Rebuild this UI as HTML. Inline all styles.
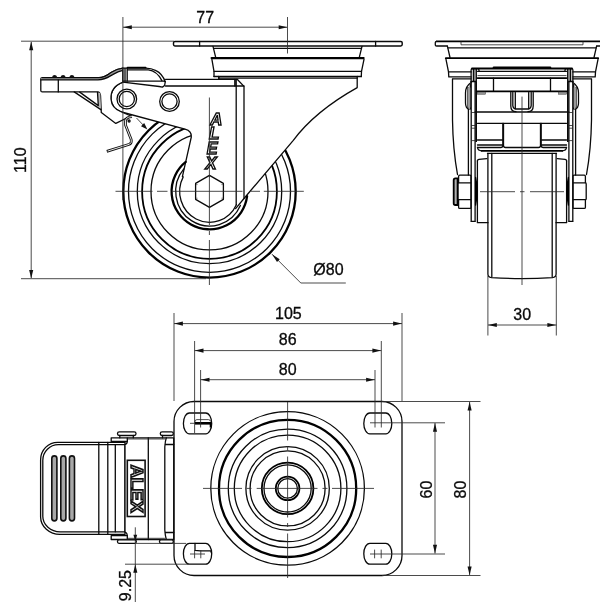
<!DOCTYPE html>
<html>
<head>
<meta charset="utf-8">
<title>Caster drawing</title>
<style>
html,body{margin:0;padding:0;background:#fff;}
body{width:600px;height:610px;overflow:hidden;}
svg{display:block;filter:grayscale(1);}
text{font-family:"Liberation Sans",sans-serif;font-size:16px;fill:#0a0a0a;stroke:#0a0a0a;stroke-width:0.3;}
.m{fill:none;stroke:#0a0a0a;stroke-width:1.3;stroke-linecap:round;stroke-linejoin:round;}
.w{fill:#fff;stroke:#0a0a0a;stroke-width:1.3;stroke-linecap:round;stroke-linejoin:round;}
.k{fill:none;stroke:#000;stroke-width:2.3;stroke-linecap:round;stroke-linejoin:round;}
.k2{fill:none;stroke:#000;stroke-width:1.8;stroke-linecap:round;stroke-linejoin:round;}
.t{fill:none;stroke:#222;stroke-width:0.8;}
.d{fill:none;stroke:#2a2a2a;stroke-width:0.85;}
.a{fill:#111;stroke:none;}
</style>
</head>
<body>
<svg width="600" height="610" viewBox="0 0 600 610">
<rect x="0" y="0" width="600" height="610" fill="#fff"/>

<!-- ================= SIDE VIEW ================= -->
<g id="side">
<!-- wheel -->
<circle class="k" cx="209.5" cy="191.4" r="86.2"/>
<circle class="m" cx="209.5" cy="191.4" r="81"/>
<circle class="m" cx="209.5" cy="191.4" r="72.2"/>
<circle class="k2" cx="209.5" cy="191.4" r="67.4"/>
<circle class="m" cx="209.5" cy="191.4" r="58.5"/>
<!-- fork + housing white mask -->
<path fill="#fff" stroke="none" d="M122.9,82.2 C114,85 110.5,92 111,99 C111.5,105 116,110 121.5,112 L185,129.1 Q192,131 191.3,137 L185.6,162.4 L182.2,177.3 L181,180 L209.5,229 L244,198.5 L293.3,140.3 C310,118 335,100 356.7,87.1 L357.2,76.5 L361.3,76.5 L361.5,71.3 L364,59.4 L359.3,57.3 L362,46.3 L213,46.3 L215.7,57.3 L211.9,59.4 L214,71.3 L214,76.5 L218.75,76.5 L218.75,79.5 L164.3,79.7 L165,83.7 L161.7,87 Z"/>
<!-- top plate -->
<path class="m" d="M174.9,41.4 L400.8,41.4 Q402.2,41.4 402.2,42.8 L402.2,44.6 Q402.2,46 400.8,46 L174.9,46 Q173.5,46 173.5,44.6 L173.5,42.8 Q173.5,41.4 174.9,41.4 Z" style="stroke-width:1.45"/>
<path class="m" d="M199.6,41.4 L199.6,46 M375.6,41.4 L375.6,46"/>
<!-- housing tiers -->
<path class="m" d="M213,46.3 L215.7,57.3 M362,46.3 L359.3,57.3"/>
<path class="m" d="M214.3,48.3 L360.7,48.3"/>
<path d="M211.6,58.1 L363.6,58.1" fill="none" stroke="#000" stroke-width="2.2" stroke-linecap="round"/>
<path class="m" d="M211.9,59.4 L214,71.3 L214,76.5 M364,59.4 L361.5,71.3 L361.3,76.5"/>
<path class="m" d="M214,71.3 L361.5,71.3"/>
<path class="m" d="M214,76.5 L361.3,76.5" style="stroke-width:1.5"/>
<path class="m" d="M218.75,76.5 L218.75,79.3 M218.75,78.1 L357.2,78.1"/>
<!-- fork right curve -->
<path class="m" d="M357.2,76.5 L357.2,87.6 C335,100 310,118 293.3,140.3 L244,198.5 L235.6,208.6"/>
<!-- fork top flange and verticals -->
<path class="m" d="M165.5,79.3 L237.2,79.3 L244,86.4 L244,198.5"/>
<path class="m" d="M165.5,86 L244,86"/>
<path class="m" d="M218.75,77.4 L218.75,79.3"/>
<path class="m" d="M234.8,79.3 L234.8,86 M236.2,79.3 L236.2,204.5"/>
<!-- fork lower-left edge -->
<path class="m" d="M121.5,112 L185,129.1 Q192,131 191.3,137 L185.6,162.4 L182.4,176.6"/>
<!-- pivot bracket -->
<path class="m" d="M122.9,82.2 C114.5,85.5 110.6,92 111,99 C111.4,105.5 116,110 121.5,112"/>
<path class="m" d="M122.9,82.2 L159.2,86.5 L162.4,87.1 L164.6,85.5 L165.3,81.7"/>
<circle class="m" cx="126.8" cy="99" r="9.8"/>
<circle class="m" cx="126.8" cy="99" r="7.6"/>
<circle class="m" cx="169.5" cy="101.5" r="9.8"/>
<circle class="m" cx="169.5" cy="101.5" r="7.6"/>
<!-- hub arcs -->
<path class="k" d="M185.75,161.86 A37.9,37.9 0 1 0 247.10,196.15"/>
<path class="m" d="M183.80,168.93 A33.8,34.6 0 1 0 240.38,205.47"/>
<path class="m" d="M183.19,176.92 A29.8,30.85 0 1 0 236.40,204.68"/>
<!-- hex bolt -->
<path class="m" d="M209.5,175.4 L223.4,183.4 L223.4,199.4 L209.5,207.4 L195.6,199.4 L195.6,183.4 Z"/>
<path class="t" d="M196.4,184.6 L197.4,184.6 M196.4,198.2 L197.4,198.2 M221.6,184.6 L222.6,184.6 M221.6,198.2 L222.6,198.2 M209,176.8 L210,176.8 M209,206 L210,206"/>
<!-- brake lever / pedal -->
<path class="w" d="M42.3,77.6 L99,77.6 C105.5,77.6 108,74.5 111.5,72.3 C115,70 118.5,68.6 122.9,68.1 L122.9,82.2 C114.5,85.5 110.6,92 111,99 C111.4,105.5 116,110 121.5,112 L131,116 L115.8,123.4 L101.3,112.6 L100.5,95.5 Q100.3,92.6 98,91.9 L42.3,91.9 Q40.8,91.9 40.8,90.4 L40.8,79.1 Q40.8,77.6 42.3,77.6 Z"/>
<path fill="#9c9c9c" stroke="none" d="M41.3,77.8 L99,77.6 C105.5,77.6 108,74.5 111.5,72.3 C115,70 118.5,68.6 122.9,68.1 L122.9,70.4 C119,71 116,72.5 112.6,74.6 C108.5,77 105,79.9 98,79.9 L41.3,79.9 Z"/>
<path class="m" d="M42.3,77.6 L99,77.6 C105.5,77.6 108,74.5 111.5,72.3 C115,70 118.5,68.6 122.9,68.1"/>
<path class="m" d="M41,79.9 L98,79.9 C105,79.9 108.5,77 112.6,74.6 C116,72.5 119,71 122.9,70.4"/>
<path class="m" d="M58.3,79.9 L58.3,91.9"/>
<path fill="#b5b5b5" stroke="none" d="M97.5,92.5 L100.3,93 L101,109.5 L98.3,105.8 Z"/>
<path class="m" d="M74.2,91.9 L100.9,109.6 M79.7,92.1 L98.3,105.6 M97.5,92.5 L98.3,105.8"/>
<path class="a" d="M52,77.2 q0.6,-2.2 2.6,-2.2 q2,0 2.6,2.2 Z M60.5,77.2 q0.6,-2.2 2.6,-2.2 q2,0 2.6,2.2 Z M69.3,77.2 q0.6,-2.2 2.6,-2.2 q2,0 2.6,2.2 Z"/>
<!-- hood -->
<path class="w" d="M122.9,68.1 L122.9,81.1 L163.5,81.1 L165.3,81.7 C163.5,77 160,72.5 156,70.6 C153,69 150,68.1 145.6,68.1 Z"/>
<path class="m" d="M125,68.5 L125,81.1 M127.2,68.5 L127.2,81.1 M127.2,69.9 L148.3,69.9 C154,70.5 159,75 161.9,80.6"/>
<path class="k2" d="M127.5,67.7 L145.6,67.7"/>
<!-- spring clip -->
<path d="M132,116.6 C128.5,116.8 125.7,118 125.5,121 L125.5,125 L131.2,139.5 Q132,143 129.5,144.2 L106.8,151.4" fill="none" stroke="#111" stroke-width="2.7" stroke-linecap="butt" stroke-linejoin="round"/>
<path d="M132.5,116.6 C128.5,116.8 125.7,118 125.5,121 L125.5,125 L131.2,139.5 Q132,143 129.5,144.2 L107.6,151.1" fill="none" stroke="#fff" stroke-width="0.9" stroke-linecap="butt" stroke-linejoin="round"/>
<circle class="m" cx="129.1" cy="121" r="1"/>
<!-- small arrow -->
<path class="d" d="M136.5,118 L146,128"/>
<path class="a" d="M147.4,129.4 L141,126.2 L144.2,123 Z"/>
<g font-style="italic" font-weight="bold" font-size="16.8">
<text x="210.3" y="125.2" textLength="12" lengthAdjust="spacingAndGlyphs" style="fill:#fff;stroke:#0a0a0a;stroke-width:1.3">A</text>
<text x="209" y="138.8" textLength="10.4" lengthAdjust="spacingAndGlyphs" style="fill:#fff;stroke:#0a0a0a;stroke-width:1.3">L</text>
<text x="206.8" y="153.5" textLength="10.8" lengthAdjust="spacingAndGlyphs" style="fill:#fff;stroke:#0a0a0a;stroke-width:1.3">E</text>
<text x="205.6" y="168.9" textLength="11" lengthAdjust="spacingAndGlyphs" style="fill:#fff;stroke:#0a0a0a;stroke-width:1.3">X</text>
</g>
</g>

<!-- ================= FRONT VIEW ================= -->
<g id="front">
<defs>
<clipPath id="ch"><rect x="400" y="0" width="122" height="610"/></clipPath>
<g id="fh" clip-path="url(#ch)">
<!-- top plate -->
<path class="k2" d="M522.3,41.4 L436.6,41.4"/>
<path class="m" d="M436.6,41.4 Q435.3,41.4 435.3,42.6 L435.3,44.9 Q435.3,46 436.6,46 L447.3,46"/>
<path class="t" d="M461,41.4 L461,44.8 L522.3,44.8"/>
<path class="m" d="M448,47.9 L522.3,47.9"/>
<!-- tiers -->
<path class="m" d="M447.4,46.2 L450,57.5"/>
<path class="k2" d="M445.8,58.2 L522.3,58.2"/>
<path class="m" d="M446,59.4 L448.5,71.9 L471.2,71.9 M448.5,71.9 L448.8,76.9 L471.2,76.9 M453,78.8 L471.2,78.8"/>
<!-- outer fork leg -->
<path class="m" d="M452.5,78.8 L452.5,120 C452.8,140 454.5,158 457.5,174.5"/>
<!-- nut -->
<path class="m" d="M459.8,175.2 L470,175.2 Q471,175.2 471,176.2 L471,207.4 Q471,208.4 470,208.4 L459.8,208.4 Q458.6,208.4 458.6,207.2 L458.6,200 Q457.8,199.6 457.8,198.8 L457.8,184 Q457.8,183 458.6,182.8 L458.6,176.4 Q458.6,175.2 459.8,175.2 Z M458,182.8 L471,182.8 M458,199.6 L471,199.6"/>
<!-- inner fork bars -->
<rect x="473.4" y="69.3" width="2.2" height="12" fill="#8a8a8a"/>
<path class="m" d="M471.1,81.5 L471.1,70 Q471.1,68.6 472.5,68.6 L477.6,68.6 Q479,68.6 479,70 L479,71"/>
<path class="m" d="M473.4,69 L473.4,81.5 M476.3,69 L476.3,81.5 M471.1,81.5 L476.3,81.5"/>
<path class="m" d="M471.2,81.5 L471.2,221.3 M475.1,81.5 L475.1,221.3"/>
<path d="M476.2,81.5 L476.2,142" fill="none" stroke="#0a0a0a" stroke-width="1.6"/>
<path class="m" d="M468.4,109.5 L468.4,175"/>
<path class="t" d="M471.2,112.5 L475.1,112.5 M471.2,125.5 L475.1,125.5 M471.2,128.2 L475.1,128.2 M471.2,140.6 L475.1,140.6"/>
<path class="m" d="M477.4,160.8 L477.4,222.7 L488,222.7 M471.2,221.3 L475.1,221.3"/>
<path class="m" d="M477.4,160.8 Q477.6,159.6 479,159.4 L486.7,158.6"/>
<!-- washer -->
<path d="M475.6,177.5 Q478.6,191 475.6,205 Z" fill="#000" stroke="#000" stroke-width="1.3" stroke-linejoin="round"/>
<!-- brake cam rounded -->
<path class="m" d="M471.1,82.5 C468,84.5 465.5,88 465.5,93 L465.5,103 C465.5,106.5 467,108.5 469,109.3"/>
<path class="m" d="M468,87.5 L468,107.5 M470.3,84.5 L470.3,109"/>
<rect x="468" y="87.5" width="2.3" height="20" fill="#999"/>
<!-- brake bracket lines -->
<path class="k2" d="M472,68.5 L522.3,68.5"/>
<path class="k" d="M493.8,67.6 L522.3,67.6"/>
<path class="m" d="M477.5,71.3 L522.3,71.3"/>
<path class="t" d="M477.5,75.6 L522.3,75.6"/>
<path class="k2" d="M477.5,78.1 L522.3,78.1"/>
<path class="m" d="M493.5,78.1 L493.5,91.2"/>
<path class="k2" d="M477,91.3 L522.3,91.3"/>
<rect x="477.5" y="92" width="8" height="2.2" fill="#999" stroke="#333" stroke-width="0.5"/>
<!-- center nut -->
<path class="m" d="M510.8,92.5 L510.8,106 Q510.8,111.7 516,111.7 M512.8,92.5 L512.8,105.5 Q513,108.5 515.3,109 M515.3,92.5 L515.3,109 L522.3,109"/>
<path class="m" d="M475.1,112 L522.3,112"/>
<path class="m" d="M477.5,123.3 L522.3,123.3"/>
<path class="m" d="M477.5,140 L502.5,140 M477.5,145 L502.5,145"/>
<path class="m" d="M502.8,123.3 L502.8,145.5 Q502.8,147.5 500.8,147.5 L477.5,147.5 M503.5,123.3 L503.5,145.5 Q503.5,147.5 505.5,147.5 L522.3,147.5"/>
<path class="m" d="M477.5,147.5 Q478,150.8 481.7,150.8"/>
<!-- wheel -->
<path class="k2" d="M481.7,150.8 L522.3,150.8"/>
<path class="m" d="M487.5,153.3 L522.3,153.3"/>
<path class="m" d="M487.9,153.3 L487.9,274 Q487.9,277.3 491.5,277.6 Q507,278.5 522.3,278.6"/>
<path class="m" d="M491.8,153.3 L491.8,277"/>
</g>
</defs>
<use href="#fh"/>
<path class="k2" d="M457.6,178.4 L455.4,178.4 Q453.7,178.4 453.7,180.2 L453.7,203.2 Q453.7,205 455.4,205 L457.6,205 Z" style="fill:#b0b0b0"/>
<use href="#fh" transform="translate(1044,0) scale(-1,1)"/>

</g>

<!-- ================= BOTTOM VIEW ================= -->
<g id="bottom">
<!-- plate -->
<rect class="m" x="174" y="401.5" width="228" height="174" rx="20" ry="20"/>
<!-- circles -->
<circle class="m" cx="287.6" cy="488.4" r="76.8"/>
<circle class="k" cx="287.6" cy="488.4" r="68.6"/>
<circle class="m" cx="287.6" cy="488.4" r="59.3"/>
<circle class="m" cx="287.6" cy="488.4" r="53.3"/>
<circle class="m" cx="287.6" cy="488.4" r="41.7"/>
<circle class="m" cx="287.6" cy="488.4" r="37.5"/>
<circle class="k2" cx="287.6" cy="488.4" r="25.8"/>
<circle class="m" cx="287.6" cy="488.4" r="23.6"/>
<circle class="k2" cx="287.6" cy="488.4" r="11.8"/>
<circle class="m" cx="287.6" cy="488.4" r="9.8"/>
<!-- slots -->
<rect class="m" x="183.4" y="413" width="28.3" height="20.8" rx="6" ry="10.4"/>
<rect class="m" x="363.8" y="413" width="28" height="20.8" rx="6" ry="10.4"/>
<rect class="m" x="183.4" y="543.4" width="28.3" height="20.8" rx="6" ry="10.4"/>
<rect class="m" x="363.8" y="543.4" width="28" height="20.8" rx="6" ry="10.4"/>
<!-- slot inner marks -->
<path class="t" d="M195,423 L195,421.4 Q195,419.6 197,419.6 L208.5,419.6 Q210.4,419.6 210.4,421.4"/>
<path d="M195,423.3 L210.6,423.3" fill="none" stroke="#000" stroke-width="2.6"/>
<path d="M210.5,422 L210.5,427.5" fill="none" stroke="#000" stroke-width="1.6"/>
<path class="d" d="M190,423.3 L195,423.3"/>
<path class="m" d="M195,543.4 L195,550.4 Q203,551.2 210.8,550.8 L211.5,553"/>
<path class="d" d="M190,554 L205,554 M194.6,550 L194.6,558.3 M200.8,550 L200.8,558.3"/>
<path class="d" d="M374.6,549.6 L374.6,558.3 M381.2,549.6 L381.2,558.3"/>
<!-- pedal -->
<path class="w" d="M125,442.3 L57.7,442.3 A17.1,17.4 0 0 0 40.6,459.7 L40.6,517 A19.5,17.5 0 0 0 60,534.4 L125,534.4 Z"/>
<path class="m" d="M125,444.7 L58.5,444.7 A15.6,15.6 0 0 0 42.8,460.3 L42.8,516 A17.5,15.6 0 0 0 60.5,531.8 L125,531.8"/>
<rect x="51.8" y="455.9" width="5.1" height="65" rx="2.55" fill="#a8a8a8" stroke="#111" stroke-width="1.6"/>
<rect x="60.8" y="455.9" width="5.1" height="65" rx="2.55" fill="#a8a8a8" stroke="#111" stroke-width="1.6"/>
<rect x="69.4" y="455.9" width="5.1" height="65" rx="2.55" fill="#a8a8a8" stroke="#111" stroke-width="1.6"/>
<path class="m" d="M98.8,442.3 L98.8,534.4 M107.8,442.3 L107.8,534.4 M115.3,444.7 L115.3,531.8"/>
<!-- middle section -->
<path class="w" d="M125,444.7 Q127.4,443.5 127.3,441.5 L127.3,437.8 L173.7,437.8 L173.7,539.5 L127.3,539.5 L127.3,535.6 Q127.4,533 125,531.8 Z"/>
<rect class="w" x="111.2" y="437.8" width="16.1" height="3.7"/>
<rect class="w" x="111.2" y="535.6" width="16.1" height="3.9"/>
<path class="m" d="M148.3,437.8 L148.3,539.5 M164.8,447 L164.8,530 M164.8,447 Q165.2,441 166.3,437.8 M164.8,530 Q165.2,536 166.3,539.5"/>
<path class="m" d="M165.5,444.5 L173.7,444.5 M165.5,532.5 L173.7,532.5"/>
<path class="t" d="M127.3,439 L164.9,439 M127.3,538.3 L164.9,538.3"/>
<!-- tabs -->
<rect class="w" x="117.5" y="431.8" width="18.5" height="3.7" rx="1.8"/>
<rect class="w" x="160.3" y="431.8" width="13" height="3.7" rx="1.8"/>
<path class="m" d="M119.8,435.5 L119.8,437.8 M133.3,435.5 L133.3,437.8 M162.5,435.5 L162.5,437.8"/>
<rect class="w" x="117.5" y="539.8" width="18.8" height="3.5" rx="1.5"/>
<rect class="w" x="159.5" y="539.8" width="13.8" height="3.5" rx="1.5"/>
<!-- label -->
<rect x="127.3" y="460.3" width="17.8" height="56.2" fill="#fff" stroke="#111" stroke-width="1.6"/>
<text transform="translate(130.7,464.8) rotate(90)" font-weight="bold" font-size="15.8" textLength="47.8" lengthAdjust="spacingAndGlyphs" style="fill:#fff;stroke:#111;stroke-width:1.5">ALEX</text>
</g>

<!-- ================= DIMENSIONS ================= -->
<g id="dims">
<path class="d" d="M21,41.2 L174,41.2"/>
<path class="d" d="M21,278.7 L206,278.7"/>
<path class="d" d="M31.2,42 L31.2,278"/>
<path class="a" d="M31.20,41.50 L33.25,50.20 L29.15,50.20 Z"/>
<path class="a" d="M31.20,278.60 L29.15,269.90 L33.25,269.90 Z"/>
<text x="25.6" y="160.2" text-anchor="middle" font-size="14.8" transform="rotate(-90 25.6 160.2)">110</text>
<path class="d" d="M122.9,17 L122.9,200"/>
<path class="d" d="M287.5,17 L287.5,53.5"/>
<path class="d" d="M123,27.2 L287,27.2"/>
<path class="a" d="M123.10,27.20 L131.80,25.15 L131.80,29.25 Z"/>
<path class="a" d="M287.40,27.20 L278.70,29.25 L278.70,25.15 Z"/>
<text x="205.2" y="22.5" text-anchor="middle" font-size="14.8">77</text>
<path class="d" d="M272,254.2 L300.8,283 L345.8,283"/>
<path class="a" d="M272.00,254.20 L279.71,259.22 L277.02,261.91 Z"/>
<text x="313.3" y="275.3" text-anchor="start" font-size="14.8">Ø80</text>
<path class="d" d="M115.5,191.3 L152.5,191.3 M157,191.3 L167.5,191.3 M172.5,191.3 L242.5,191.3 M251,191.3 L260,191.3 M263.8,191.3 L303.8,191.3"/>
<path class="d" d="M209.4,97.5 L209.4,225 M209.4,231 L209.4,235 M209.4,240 L209.4,285"/>
<path class="d" d="M487.9,276 L487.9,335.5"/>
<path class="d" d="M556.3,276 L556.3,335.5"/>
<path class="d" d="M488,325 L556.5,325"/>
<path class="a" d="M488.10,325.00 L496.80,322.95 L496.80,327.05 Z"/>
<path class="a" d="M556.10,325.00 L547.40,327.05 L547.40,322.95 Z"/>
<text x="522.2" y="319.6" text-anchor="middle" font-size="14.8">30</text>
<path class="d" d="M174,313 L174,401"/>
<path class="d" d="M402,313 L402,401"/>
<path class="d" d="M174,323.6 L402,323.6"/>
<path class="a" d="M174.20,323.60 L182.90,321.55 L182.90,325.65 Z"/>
<path class="a" d="M401.80,323.60 L393.10,325.65 L393.10,321.55 Z"/>
<text x="288.4" y="318.9" text-anchor="middle" font-size="14.8">105</text>
<path class="d" d="M194.6,341 L194.6,433"/>
<path class="d" d="M381.3,341 L381.3,427.5"/>
<path class="d" d="M194.6,350.6 L381.3,350.6"/>
<path class="a" d="M194.80,350.60 L203.50,348.55 L203.50,352.65 Z"/>
<path class="a" d="M381.10,350.60 L372.40,352.65 L372.40,348.55 Z"/>
<text x="287.7" y="344.6" text-anchor="middle" font-size="14.8">86</text>
<path class="d" d="M200.6,370 L200.6,427.5"/>
<path class="d" d="M375,370 L375,427.5"/>
<path class="d" d="M200.6,379.7 L375,379.7"/>
<path class="a" d="M200.80,379.70 L209.50,377.65 L209.50,381.75 Z"/>
<path class="a" d="M374.80,379.70 L366.10,381.75 L366.10,377.65 Z"/>
<text x="287.7" y="375" text-anchor="middle" font-size="14.8">80</text>
<path class="d" d="M370,422.8 L445,422.8"/>
<path class="d" d="M370,554 L445,554"/>
<path class="d" d="M435,423 L435,553.5"/>
<path class="a" d="M435.00,423.00 L437.05,431.70 L432.95,431.70 Z"/>
<path class="a" d="M435.00,553.40 L432.95,544.70 L437.05,544.70 Z"/>
<text x="432.3" y="489.5" text-anchor="middle" font-size="14.8" transform="rotate(-90 432.3 489.5)">60</text>
<path class="d" d="M382,401.5 L480.5,401.5"/>
<path class="d" d="M382,575.5 L480.5,575.5"/>
<path class="d" d="M469.6,402 L469.6,575"/>
<path class="a" d="M469.60,401.70 L471.65,410.40 L467.55,410.40 Z"/>
<path class="a" d="M469.60,575.30 L467.55,566.60 L471.65,566.60 Z"/>
<text x="466" y="489.5" text-anchor="middle" font-size="14.8" transform="rotate(-90 466 489.5)">80</text>
<path class="d" d="M135.3,527.3 L135.3,602"/>
<path class="a" d="M135.30,541.20 L133.40,534.70 L137.20,534.70 Z"/>
<path class="a" d="M135.30,564.20 L137.35,572.70 L133.25,572.70 Z"/>
<path class="d" d="M136,543.4 L186,543.4"/>
<path class="d" d="M125,564.2 L188,564.2"/>
<text x="130.8" y="585.6" text-anchor="middle" font-size="14.8" transform="rotate(-90 130.8 585.6)">9.25</text>
<path class="d" d="M287.6,402 L287.6,440.5 M287.6,446 L287.6,450 M287.6,456.5 L287.6,517.5 M287.6,523 L287.6,527 M287.6,533.5 L287.6,578"/>
<path class="d" d="M203,488.4 L242,488.4 M246.5,488.4 L251.5,488.4 M256.7,488.4 L317.5,488.4 M322.5,488.4 L327.5,488.4 M332,488.4 L374,488.4"/>
<path class="d" d="M522,96.6 L522,285"/>
<path class="d" d="M480,191.7 L515,191.7 M520,191.7 L524.5,191.7 M530,191.7 L564,191.7"/>
</g>

</svg>
</body>
</html>
